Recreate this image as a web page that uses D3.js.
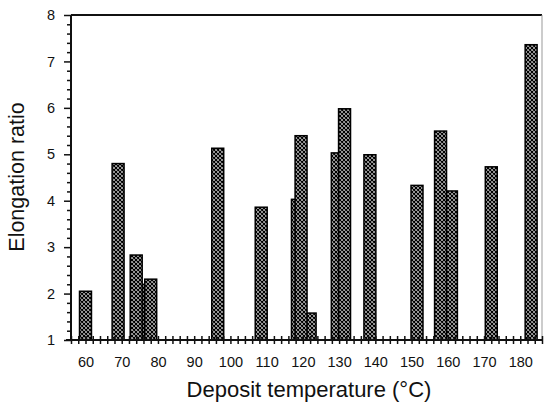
<!DOCTYPE html>
<html>
<head>
<meta charset="utf-8">
<script src="https://cdn.jsdelivr.net/npm/d3@7"></script>
<style>
  body { margin: 0; background: #fff; }
  text { font-family: "Liberation Sans", Arial, sans-serif; fill: #111; }
</style>
</head>
<body>
<svg id="chart"></svg>
<script>
// deposit temperature (°C) and elongation ratio for each bar
const temps  = [60, 69, 74, 76, 78, 96.5, 108.5, 118.5, 119.5, 122, 129.5, 131.5, 138.5, 151.5, 158, 161, 172, 183];
const ratios = [2.05, 4.8, 2.83, 2.2, 2.31, 5.13, 3.86, 4.03, 5.4, 1.58, 5.03, 5.98, 4.99, 4.33, 5.5, 4.21, 4.73, 7.36];
const xTickLabels = [60, 70, 80, 90, 100, 110, 120, 130, 140, 150, 160, 170, 180];
const yTickLabels = [1, 2, 3, 4, 5, 6, 7, 8];

const svgWidth = 544;
const svgHeight = 404;
const plotLeft = 71, plotRight = 542, plotTop = 15, plotBottom = 340;
const barW = 3.3;

const svg = d3.select("#chart")
  .attr("width", svgWidth)
  .attr("height", svgHeight);

// crosshatch fill
const pat = svg.append("defs").append("pattern")
  .attr("id", "hatch")
  .attr("patternUnits", "userSpaceOnUse")
  .attr("width", 4)
  .attr("height", 4);
pat.append("rect").attr("width", 4).attr("height", 4).attr("fill", "#fff");
pat.append("path")
  .attr("d", "M-1,1 L1,-1 M0,4 L4,0 M3,5 L5,3 M-1,3 L1,5 M0,0 L4,4 M3,-1 L5,1")
  .attr("stroke", "#000")
  .attr("stroke-width", 1.3);

const xScale = d3.scaleLinear().domain([56, 186]).range([plotLeft, plotRight]);
const yScale = d3.scaleLinear().domain([1, 8]).range([plotBottom, plotTop]);

// bars, shorter ones behind
const data = temps.map((t, i) => ({ t, r: ratios[i] }))
  .sort((a, b) => a.r - b.r);

svg.selectAll("rect.bar")
  .data(data)
  .enter()
  .append("rect")
  .attr("class", "bar")
  .attr("x", d => xScale(d.t - barW / 2))
  .attr("y", d => yScale(d.r))
  .attr("width", d => xScale(d.t + barW / 2) - xScale(d.t - barW / 2))
  .attr("height", d => plotBottom - yScale(d.r))
  .attr("fill", "url(#hatch)")
  .attr("stroke", "#000")
  .attr("stroke-width", 1.5);

// frame top and right
svg.append("line")
  .attr("x1", plotLeft).attr("x2", plotRight).attr("y1", plotTop).attr("y2", plotTop)
  .attr("stroke", "#111").attr("stroke-width", 2);
svg.append("line")
  .attr("x1", plotRight).attr("x2", plotRight).attr("y1", plotTop).attr("y2", plotBottom)
  .attr("stroke", "#999").attr("stroke-width", 1);

// y axis
const yAxis = d3.axisLeft(yScale)
  .tickValues(d3.range(1, 8.01, 0.2))
  .tickSize(4)
  .tickPadding(12)
  .tickFormat(d => yTickLabels.includes(Math.round(d * 10) / 10) ? d3.format("d")(d) : "");

const gy = svg.append("g")
  .attr("transform", `translate(${plotLeft},0)`)
  .call(yAxis);
gy.select(".domain").attr("stroke", "#111").attr("stroke-width", 2).attr("d", `M0,${plotTop}V${plotBottom + 1}`);
gy.selectAll(".tick line")
  .attr("stroke", "#111")
  .attr("stroke-width", 1.5)
  .attr("x2", d => Number.isInteger(Math.round(d * 10) / 10) ? -7 : -4);
gy.selectAll("text").style("font-size", "14.5px");

// x axis
const xAxis = d3.axisBottom(xScale)
  .tickValues(d3.range(56, 186.5, 2))
  .tickSize(4)
  .tickPadding(13)
  .tickFormat(d => xTickLabels.includes(d) ? d : "");

const gx = svg.append("g")
  .attr("transform", `translate(0,${plotBottom})`)
  .call(xAxis);
gx.select(".domain").attr("stroke", "#111").attr("stroke-width", 2).attr("d", `M${plotLeft - 5},0H${plotRight}`);
gx.selectAll(".tick line")
  .attr("stroke", "#111")
  .attr("stroke-width", 1.5)
  .attr("y1", -4)
  .attr("y2", 4);
gx.selectAll("text").style("font-size", "14.5px");

// axis titles
svg.append("text")
  .attr("x", 309)
  .attr("y", 397)
  .attr("text-anchor", "middle")
  .style("font-size", "22px")
  .text("Deposit temperature (°C)");

svg.append("text")
  .attr("transform", "translate(24,177) rotate(-90)")
  .attr("text-anchor", "middle")
  .style("font-size", "21.5px")
  .text("Elongation ratio");
</script>
</body>
</html>
